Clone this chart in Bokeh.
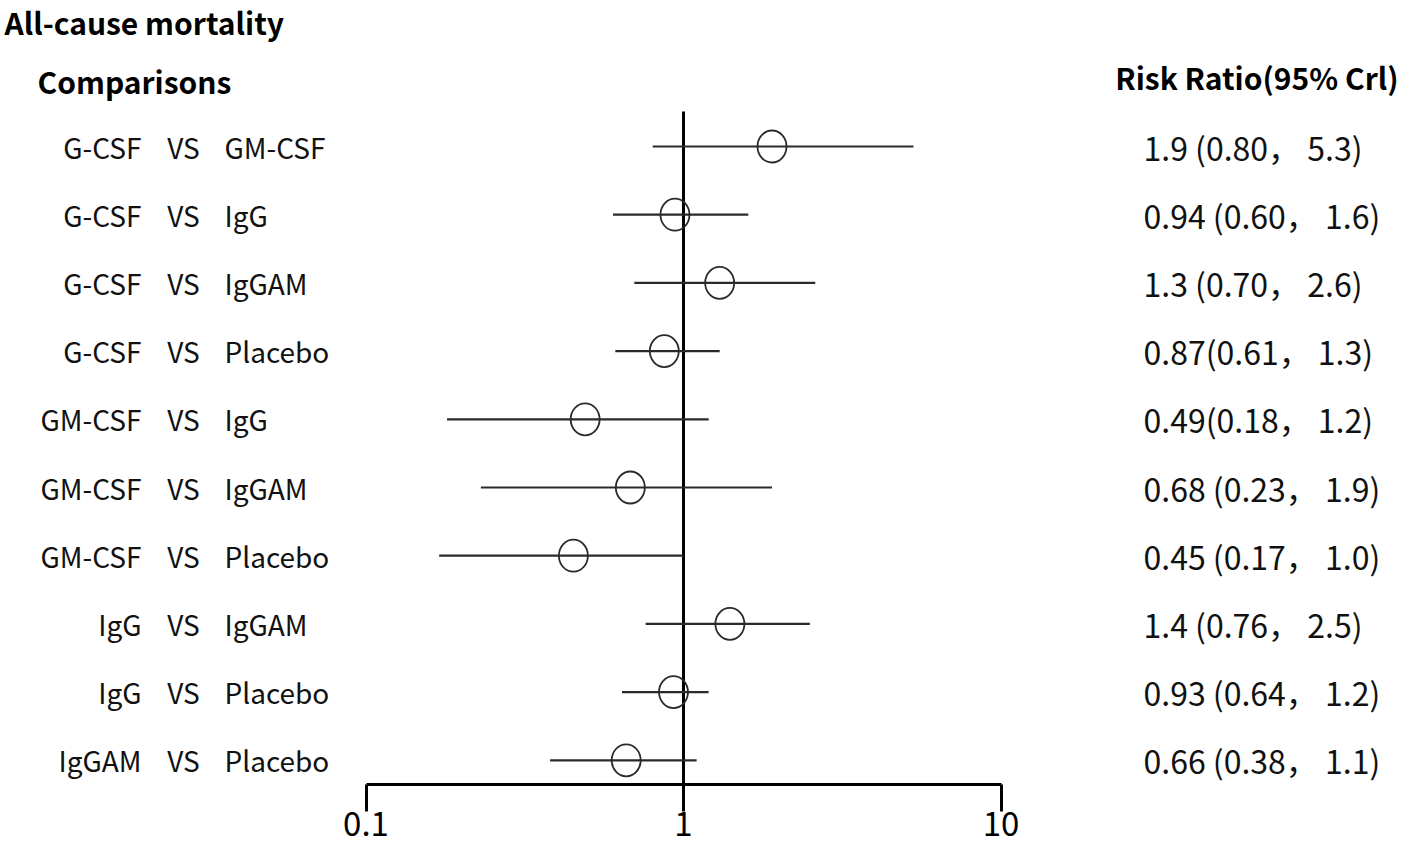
from bokeh.plotting import figure
from bokeh.models import Range1d, FixedTicker
from bokeh.core.properties import value
from bokeh.embed import file_html
from bokeh.resources import INLINE

# ---------------- data ----------------
treat_a = ["G-CSF", "G-CSF", "G-CSF", "G-CSF", "GM-CSF", "GM-CSF", "GM-CSF", "IgG", "IgG", "IgGAM"]
treat_b = ["GM-CSF", "IgG", "IgGAM", "Placebo", "IgG", "IgGAM", "Placebo", "IgGAM", "Placebo", "Placebo"]
rr = [1.9, 0.94, 1.3, 0.87, 0.49, 0.68, 0.45, 1.4, 0.93, 0.66]
lo = [0.80, 0.60, 0.70, 0.61, 0.18, 0.23, 0.17, 0.76, 0.64, 0.38]
hi = [5.3, 1.6, 2.6, 1.3, 1.2, 1.9, 1.0, 2.5, 1.2, 1.1]
rr_text = ["1.9 (0.80， 5.3)", "0.94 (0.60， 1.6)", "1.3 (0.70， 2.6)", "0.87(0.61， 1.3)",
           "0.49(0.18， 1.2)", "0.68 (0.23， 1.9)", "0.45 (0.17， 1.0)", "1.4 (0.76， 2.5)",
           "0.93 (0.64， 1.2)", "0.66 (0.38， 1.1)"]
tick_vals = [0.1, 1, 10]
tick_labels = ["0.1", "1", "10"]

# ---------------- layout ----------------
W, H = 1400, 846
PX_ONE = 683.0      # px of RR = 1
DEC = 317.5         # px per decade
ROW0 = 146.0        # px (from top) of first row
STEP = 68.2         # px between rows
BORDER_B = 62
FRAME_BOTTOM = H - BORDER_B

def xd(px):
    return 10 ** ((px - PX_ONE) / DEC)

def yd(py):
    return (py - ROW0) / STEP

rows = list(range(len(rr)))
FONT = "Noto Sans CJK SC"

p = figure(width=W, height=H, x_axis_type="log", output_backend="svg",
           toolbar_location=None, y_axis_location=None,
           x_range=Range1d(10 ** (-PX_ONE / DEC), 10 ** ((W - PX_ONE) / DEC)),
           y_range=Range1d((FRAME_BOTTOM - ROW0) / STEP, -ROW0 / STEP),
           min_border_left=0, min_border_right=0, min_border_top=0,
           min_border_bottom=BORDER_B)
p.outline_line_color = None
p.xgrid.visible = False
p.ygrid.visible = False
p.background_fill_color = "white"
p.border_fill_color = "white"

ax = p.xaxis[0]
ax.ticker = FixedTicker(ticks=tick_vals, minor_ticks=[])
ax.bounds = (tick_vals[0], tick_vals[-1])
ax.major_label_overrides = {v: s for v, s in zip(tick_vals, tick_labels)}
ax.axis_line_width = 3
ax.axis_line_color = "black"
ax.major_tick_line_width = 3
ax.major_tick_in = 0
ax.major_tick_out = 27
ax.minor_tick_line_color = None
ax.major_label_standoff = 0
ax.major_label_text_font = FONT
ax.major_label_text_font_size = "33px"
ax.major_label_text_color = "black"

# reference line at RR = 1
p.segment(x0=[1], y0=[yd(111)], x1=[1], y1=[yd(830)], line_color="black", line_width=3)

# CIs and point estimates
p.segment(x0=lo, y0=rows, x1=hi, y1=rows, line_color="#2a2a2a", line_width=2.2)
p.ellipse(x=rr, y=rows, width=29, height=32, width_units="screen", height_units="screen",
          fill_color=None, line_color="#2a2a2a", line_width=1.8)

# row labels
LBL = "28px"
p.text(x=[xd(141)] * len(rows), y=rows, text=treat_a, text_align="right", text_baseline="middle",
       text_font=value(FONT), text_font_size=LBL, text_color="#111111")
p.text(x=[xd(183)] * len(rows), y=rows, text=["VS"] * len(rows), text_align="center",
       text_baseline="middle", text_font=value(FONT), text_font_size=LBL, text_color="#111111")
p.text(x=[xd(224)] * len(rows), y=rows, text=treat_b, text_align="left", text_baseline="middle",
       text_font=value(FONT), text_font_size=LBL, text_color="#111111")

# risk ratio column
p.text(x=[xd(1143)] * len(rows), y=rows, text=rr_text, text_align="left", text_baseline="middle",
       text_font=value(FONT), text_font_size="32px", text_color="#111111")

# headers
p.text(x=[xd(4)], y=[yd(21)], text=["All-cause mortality"], text_align="left", text_baseline="middle",
       text_font=value(FONT), text_font_size="30px", text_font_style="bold", text_color="black")
p.text(x=[xd(37)], y=[yd(80)], text=["Comparisons"], text_align="left", text_baseline="middle",
       text_font=value(FONT), text_font_size="30px", text_font_style="bold", text_color="black")
p.text(x=[xd(1398)], y=[yd(76)], text=["Risk Ratio(95% Crl)"], text_align="right", text_baseline="middle",
       text_font=value(FONT), text_font_size="30px", text_font_style="bold", text_color="black")

open("out.html", "w").write(file_html(p, INLINE))
